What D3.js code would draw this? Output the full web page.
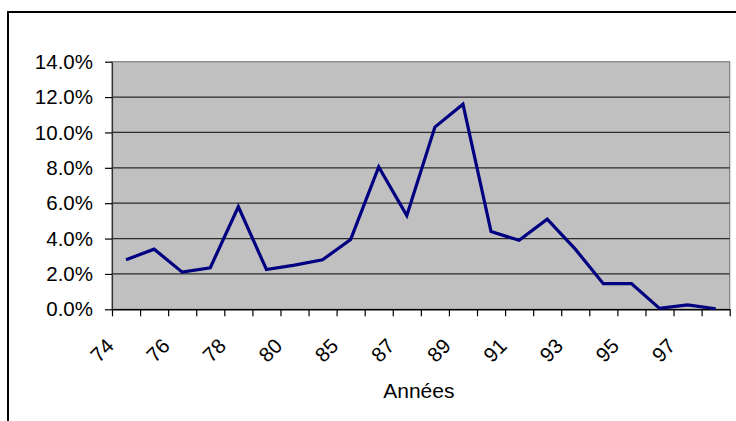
<!DOCTYPE html>
<html>
<head>
<meta charset="utf-8">
<script src="https://cdn.jsdelivr.net/npm/d3@7"></script>
<style>
  html, body { margin: 0; padding: 0; background: #fff; overflow: hidden; }
  svg { display: block; font-family: "Liberation Sans", Arial, sans-serif; }
</style>
</head>
<body>
<div id="wrapper"></div>
<script>
// years on the x axis (only every other one is labelled)
const years = ["74", "75", "76", "77", "78", "79", "80", "84", "85", "86", "87",
    "88", "89", "90", "91", "92", "93", "94", "95", "96", "97", "98"]

// growth rate, fraction
const rates = [0.028, 0.034, 0.021, 0.0235, 0.058, 0.0225, 0.025, 0.028, 0.0395, 0.0805, 0.053,
    0.103, 0.116, 0.044, 0.039, 0.051, 0.034, 0.0145, 0.0145, 0.0005, 0.0025, 0.0003]

const yTicks = [0, 0.02, 0.04, 0.06, 0.08, 0.10, 0.12, 0.14]
const xTitle = "Années"

let dimensions = {
    width: 736,
    height: 421,
    plot: { left: 112, right: 729.7, top: 61.7, bottom: 309.3 }
}

const svg = d3.select("#wrapper")
    .append("svg")
    .attr("width", dimensions.width)
    .attr("height", dimensions.height)

// outer frame (runs off the right and bottom edge)
svg.append("rect")
    .attr("x", 8)
    .attr("y", 12)
    .attr("width", 740)
    .attr("height", 420)
    .attr("fill", "#fff")
    .attr("stroke", "#000")
    .attr("stroke-width", 2)

const p = dimensions.plot

const x = d3.scaleBand()
    .domain(years)
    .range([p.left, p.right])

const xEdge = d3.scaleLinear()
    .domain([0, years.length])
    .range([p.left, p.right])

const y = d3.scaleLinear()
    .domain([0, 0.14])
    .range([p.bottom, p.top])

// plot background
svg.append("rect")
    .attr("x", p.left)
    .attr("y", p.top)
    .attr("width", p.right - p.left)
    .attr("height", p.bottom - p.top)
    .attr("fill", "#c0c0c0")
    .attr("stroke", "#808080")
    .attr("stroke-width", 1.2)

// gridlines
svg.append("g")
    .selectAll("line")
    .data(yTicks.slice(1, -1))
    .join("line")
    .attr("x1", p.left)
    .attr("x2", p.right)
    .attr("y1", d => y(d))
    .attr("y2", d => y(d))
    .attr("stroke", "#2a2a2a")
    .attr("stroke-width", 1.2)

// y axis
const yAxis = svg.append("g")
    .attr("transform", `translate(${p.left},0)`)
    .call(d3.axisLeft(y)
        .tickValues(yTicks)
        .tickFormat(d3.format(".1%"))
        .tickSize(7)
        .tickSizeOuter(0)
        .tickPadding(12))
yAxis.select(".domain").attr("stroke", "#333").attr("stroke-width", 1.2)
yAxis.selectAll(".tick line").attr("stroke", "#000").attr("stroke-width", 1.2)
yAxis.selectAll("text")
    .attr("font-size", 20.5)
    .attr("fill", "#000")
    .attr("font-family", "'Liberation Sans', Arial, sans-serif")

// x axis (ticks between categories)
const xAxis = svg.append("g")
    .attr("transform", `translate(0,${p.bottom})`)
    .call(d3.axisBottom(xEdge)
        .tickValues(d3.range(years.length + 1))
        .tickFormat("")
        .tickSize(7)
        .tickSizeOuter(0))
xAxis.select(".domain").attr("stroke", "#000").attr("stroke-width", 1.5)
xAxis.selectAll(".tick line").attr("stroke", "#000").attr("stroke-width", 1.2)

// rotated year labels, every other category
svg.append("g")
    .selectAll("text")
    .data(years.filter((d, i) => i % 2 === 0))
    .join("text")
    .attr("transform", d => `translate(${x(d) + x.bandwidth() / 2 - 11},${p.bottom + 38}) rotate(-45)`)
    .attr("text-anchor", "end")
    .attr("font-size", 20.5)
    .attr("fill", "#000")
    .text(d => d)

// axis title
svg.append("text")
    .attr("x", (p.left + p.right) / 2 - 2)
    .attr("y", 398)
    .attr("text-anchor", "middle")
    .attr("font-size", 21)
    .attr("fill", "#000")
    .text(xTitle)

// the series
const line = d3.line()
    .x((d, i) => x(years[i]) + x.bandwidth() / 2)
    .y(d => y(d))

svg.append("path")
    .datum(rates)
    .attr("d", line)
    .attr("fill", "none")
    .attr("stroke", "#000080")
    .attr("stroke-width", 3.2)
    .attr("stroke-linejoin", "miter")
</script>
</body>
</html>
